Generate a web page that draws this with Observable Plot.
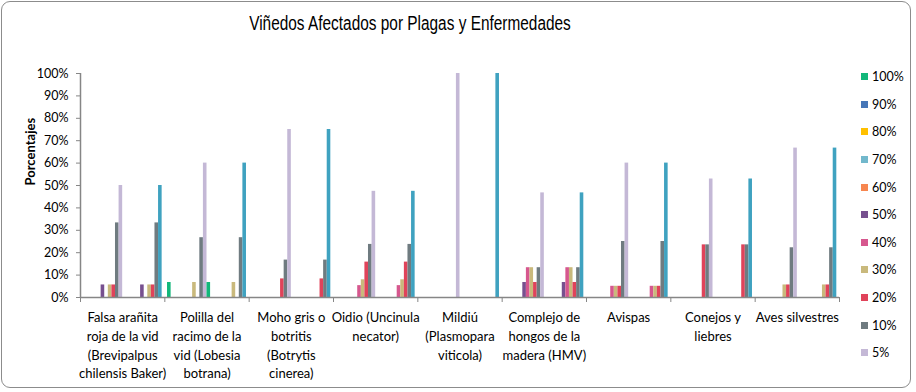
<!DOCTYPE html>
<html><head><meta charset="utf-8">
<script src="https://cdn.jsdelivr.net/npm/d3@7"></script>
<script src="https://cdn.jsdelivr.net/npm/@observablehq/plot@0.6"></script>
<style>
html,body{margin:0;padding:0;background:#fff;}
#wrap{position:relative;width:916px;height:392px;overflow:hidden;background:#fff;}
#chart{position:absolute;left:0;top:0;}
#frame{position:absolute;left:1px;top:1px;width:908px;height:385px;border:1.5px solid #8c8c8c;border-radius:9px;pointer-events:none;}
#title{position:absolute;left:0;width:820px;top:12px;text-align:center;font-family:"Liberation Sans",Arial,sans-serif;font-size:20px;color:#000;transform:scaleX(0.77);transform-origin:410px 0;}
#legend{position:absolute;left:861px;top:0;font-family:Lato,"Open Sans",sans-serif;font-size:12.5px;color:#000;}
.item{position:absolute;left:0;height:16px;display:flex;align-items:center;white-space:nowrap;}
.sw{width:7px;height:7px;margin-right:4px;}
</style>
</head><body>
<div id="wrap">
  <div id="chart"></div>
  <div id="title"></div>
  <div id="legend"></div>
  <div id="frame"></div>
</div>
<script>
const title = "Viñedos Afectados por Plagas y Enfermedades";
const yLabel = "Porcentajes";
const categories = [
  "Falsa arañita\nroja de la vid\n(Brevipalpus\nchilensis Baker)",
  "Polilla del\nracimo de la\nvid (Lobesia\nbotrana)",
  "Moho gris o\nbotritis\n(Botrytis\ncinerea)",
  "Oidio (Uncinula\nnecator)",
  "Mildiú\n(Plasmopara\nviticola)",
  "Complejo de\nhongos de la\nmadera (HMV)",
  "Avispas",
  "Conejos y\nliebres",
  "Aves silvestres"
];
const levels = ["100%","90%","80%","70%","60%","50%","40%","30%","20%","10%","5%"];
const groups = ["A","B"];
// values (%) per level, one per category
const v100 = [0, 6.7, 0, 0, 0, 0, 0, 0, 0];
const v90  = [0, 0, 0, 0, 0, 0, 0, 0, 0];
const v80  = [0, 0, 0, 0, 0, 0, 0, 0, 0];
const v70  = [0, 0, 0, 0, 0, 0, 0, 0, 0];
const v60  = [0, 0, 0, 0, 0, 0, 0, 0, 0];
const v50  = [5.6, 0, 0, 0, 0, 6.7, 0, 0, 0];
const v40  = [0, 0, 0, 5.3, 0, 13.3, 5, 0, 0];
const v30  = [5.6, 6.7, 0, 7.9, 0, 13.3, 5, 0, 5.6];
const v20  = [5.6, 0, 8.3, 15.8, 0, 6.7, 5, 23.5, 5.6];
const v10  = [33.3, 26.7, 16.7, 23.7, 0, 13.3, 25, 23.5, 22.2];
const v5   = [50, 60, 75, 47.4, 100, 46.7, 60, 52.9, 66.7];
const values = [v100, v90, v80, v70, v60, v50, v40, v30, v20, v10, v5];
const yTicks = [0,0.1,0.2,0.3,0.4,0.5,0.6,0.7,0.8,0.9,1];

const palette = ["#12b77a","#4677b8","#ffc000","#72b8cc","#f7864f","#77508f","#d6578e","#c9b97c","#e0435a","#6f7b80","#c4b8d6"];
const teal = "#3fa2c0";
const axisColor = "#868686";

const rows = [];
categories.forEach((c, ci) => {
  groups.forEach((g, gi) => {
    levels.forEach((lv, li) => {
      const v = values[li][ci];
      if (v > 0) rows.push({ci, gi, li, key: (gi === 1 && li === levels.length - 1) ? "Total" : lv, v: v / 100});
    });
  });
});
const nSlots = groups.length * levels.length;
const span = nSlots + 1.5;
const slotX = d => d.ci + (0.75 + d.gi * levels.length + d.li) / span;
const boundaries = d3.range(categories.length + 1);

const chart = Plot.plot({
  width: 916, height: 392,
  marginLeft: 80, marginRight: 77, marginTop: 73, marginBottom: 95,
  x: {domain: [0, categories.length], axis: null},
  y: {domain: [0, 1], axis: null},
  color: {domain: [...levels, "Total"], range: [...palette, teal]},
  style: {fontFamily: "Lato, 'Open Sans', sans-serif", fontSize: "12.5px", background: "transparent", color: "#000"},
  marks: [
    Plot.axisY({ticks: yTicks, tickFormat: d3.format(".0%"), tickSize: 4, tickPadding: 8, stroke: axisColor, label: null, fontSize: 12.5}),
    Plot.axisX({ticks: boundaries, tickFormat: () => "", tickSize: 5, stroke: axisColor, label: null}),
    Plot.rectY(rows, {x1: slotX, x2: d => slotX(d) + 1 / span, y: "v", fill: "key"}),
    Plot.ruleX([0], {stroke: axisColor, strokeWidth: 1.5}),
    Plot.ruleY([0], {stroke: axisColor, strokeWidth: 1.5}),
    Plot.text(categories, {x: (d, i) => i + 0.5, y: () => 0, text: d => d, lineAnchor: "top", dy: 11, fontSize: 13, lineHeight: 1.45, fill: "#000"}),
    Plot.text([yLabel], {frameAnchor: "left", dx: -50, rotate: -90, fontWeight: "bold", fontSize: 13, fill: "#000"})
  ]
});
document.getElementById("chart").appendChild(chart);
document.getElementById("title").textContent = title;

const legend = document.getElementById("legend");
levels.forEach((lv, i) => {
  const it = document.createElement("div");
  it.className = "item";
  it.style.top = (76.7 + i * 27.6 - 8) + "px";
  const sw = document.createElement("span");
  sw.className = "sw";
  sw.style.background = palette[i];
  const tx = document.createElement("span");
  tx.textContent = lv;
  it.appendChild(sw); it.appendChild(tx);
  legend.appendChild(it);
});
</script>
</body></html>
